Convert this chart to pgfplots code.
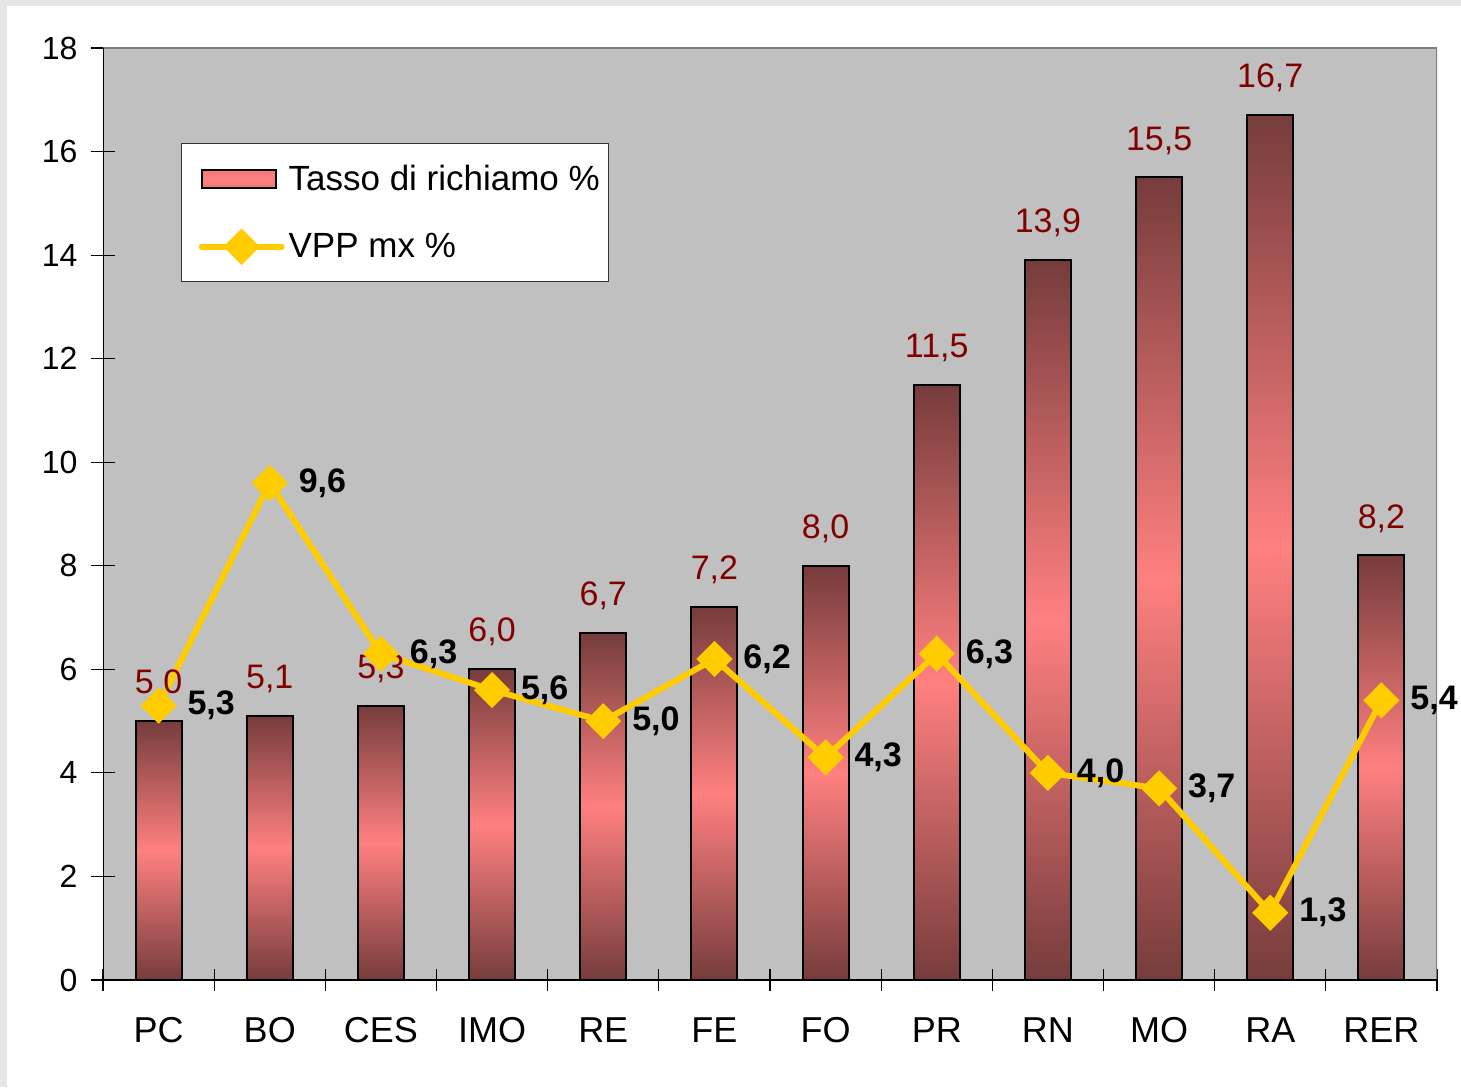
\documentclass[border=0pt]{standalone}
\usepackage{pgfplots}
\pgfplotsset{compat=1.18}
\usepackage{fontspec}
\setmainfont{Liberation Sans}
\definecolor{plotGray}{HTML}{C0C0C0}
\definecolor{barDark}{HTML}{763C3C}
\definecolor{barPink}{HTML}{FF8080}
\definecolor{lblRed}{HTML}{800000}
\definecolor{vppYellow}{HTML}{FFCC00}
\definecolor{frameGray}{HTML}{E6E6E6}
\definecolor{borderGray}{HTML}{808080}
\pgfplotsset{
  barstyle/.style={ybar, bar width=23pt, bar shift=0pt, draw=black, line width=1pt,
    top color=barDark, bottom color=barDark, middle color=barPink,
    nodes near coords={\pgfmathprintnumber[use comma,fixed,fixed zerofill,precision=1]{\pgfplotspointmeta}},
    every node near coord/.append style={text=lblRed, anchor=south, inner sep=0pt,
      yshift=11pt, font=\fontsize{17}{20}\selectfont}},
}
\begin{document}
\begin{tikzpicture}
\useasboundingbox (0,0) rectangle (730.5pt,543.5pt);
\fill[white] (0,0) rectangle (730.5pt,543.5pt);
\fill[frameGray] (0,540.5pt) rectangle (730.5pt,543.5pt);
\fill[frameGray] (0,0) rectangle (3.5pt,543.5pt);
\begin{axis}[
  at={(51.5pt,53.5pt)}, anchor=south west,
  scale only axis, width=667pt, height=466pt,
  xmin=-0.5, xmax=11.5, ymin=0, ymax=18,
  axis background/.style={fill=plotGray},
  axis line style={draw=none},
  xtick={0,...,11},
  xticklabels={PC,BO,CES,IMO,RE,FE,FO,PR,RN,MO,RA,RER},
  minor xtick={-0.5,0.5,...,11.5},
  major x tick style={draw=none},
  ytick={0,2,...,18},
  ytick pos=left, xtick pos=bottom,
  tick align=center,
  major tick length=11.5pt, minor tick length=11pt,
  tick style={black, line width=0.6pt},
  /pgf/number format/assume math mode=true,
  yticklabel style={font=\fontsize{16}{19}\selectfont, xshift=-3.5pt},
  xticklabel style={font=\fontsize{18}{21}\selectfont, yshift=-9.5pt},
  legend cell align=left,
  legend style={at={(0.0585,0.898)}, anchor=north west,
    font=\fontsize{17.5}{21}\selectfont, draw=black!80, line width=0.6pt,
    fill=white, inner xsep=2.5pt, inner ysep=8.5pt, row sep=16pt},
]
\addplot[barstyle,
  legend image code/.code={\path (0pt,0pt); \path[draw=black, line width=1pt,
     top color=barPink!88!barDark, bottom color=barPink!88!barDark, middle color=barPink] (6pt,-4.5pt) rectangle (43pt,4.5pt);}
] coordinates {(0,5.0)};
\addlegendentry{Tasso di richiamo \%}
\addplot[barstyle, forget plot] coordinates {(1,5.1)};
\addplot[barstyle, forget plot] coordinates {(2,5.3)};
\addplot[barstyle, forget plot] coordinates {(3,6.0)};
\addplot[barstyle, forget plot] coordinates {(4,6.7)};
\addplot[barstyle, forget plot] coordinates {(5,7.2)};
\addplot[barstyle, forget plot] coordinates {(6,8.0)};
\addplot[barstyle, forget plot] coordinates {(7,11.5)};
\addplot[barstyle, forget plot] coordinates {(8,13.9)};
\addplot[barstyle, forget plot] coordinates {(9,15.5)};
\addplot[barstyle, forget plot] coordinates {(10,16.7)};
\addplot[barstyle, forget plot] coordinates {(11,8.2)};
\addplot[vppYellow, line width=3pt, mark=square*, mark size=4.9pt,
  mark options={rotate=45, fill=vppYellow, draw=none, solid},
  nodes near coords={\pgfmathprintnumber[use comma,fixed,fixed zerofill,precision=1]{\pgfplotspointmeta}},
  every node near coord/.append style={text=black, anchor=west, inner sep=0pt,
    xshift=13pt, font=\bfseries\fontsize{17}{20}\selectfont},
  legend image code/.code={\path (0pt,0pt); \draw[vppYellow,line width=3pt,line cap=round] (6pt,0pt)--(46pt,0pt);
     \fill[vppYellow] (26pt,7pt) -- (33pt,0pt) -- (26pt,-7pt) -- (19pt,0pt) -- cycle;}
] coordinates {
(0,5.3) (1,9.6) (2,6.3) (3,5.6) (4,5.0) (5,6.2) (6,4.3) (7,6.3) (8,4.0) (9,3.7) (10,1.3) (11,5.4)
};
\addlegendentry{VPP mx \%}
\draw[borderGray, line width=1pt] (rel axis cs:0,1) -- (rel axis cs:1,1) -- (rel axis cs:1,0);
\draw[black, line width=0.8pt] (rel axis cs:0,1) -- (rel axis cs:0,0) -- (rel axis cs:1,0);
\end{axis}
\end{tikzpicture}
\end{document}
